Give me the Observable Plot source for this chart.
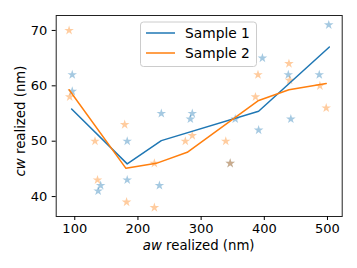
<!DOCTYPE html>
<html><head><meta charset="utf-8">
<script src="https://cdn.jsdelivr.net/npm/d3@7"></script>
<script src="https://cdn.jsdelivr.net/npm/@observablehq/plot@0.6"></script>
<style>body{margin:0;background:#fff;font-family:"DejaVu Sans",sans-serif}</style>
</head><body><div id="chart"></div>
<script>
const xTicks = [100, 200, 300, 400, 500];
const yTicks = [40, 50, 60, 70];
const seriesNames = ["Sample 1", "Sample 2"];
const seriesColors = ["#1f77b4", "#ff7f0e"];

// scattered samples (stars)
const s1PointX = [96, 96, 137, 141, 183, 183, 237, 234, 286, 283, 346, 354, 391, 397, 438, 442, 487, 502];
const s1PointY = [62, 59, 41, 42, 50, 43, 55, 42, 55, 54, 46, 54, 52, 65, 62, 54, 62, 71];
const s2PointX = [91, 92, 132, 136, 179, 182, 226, 226, 275, 286, 339, 346, 386, 390, 439, 440, 488, 498];
const s2PointY = [70, 58, 50, 43, 53, 39, 38, 46, 50, 51, 50, 46, 58, 62, 64, 61, 60, 56];

// trend lines
const s1LineX = [95, 183, 237, 391, 503];
const s1LineY = [55.8, 45.9, 50.1, 55.4, 67];
const s2LineX = [91, 181, 229, 278, 390, 439, 498];
const s2LineY = [59.3, 45.1, 46, 48, 57.3, 59.3, 60.4];

const pts1 = s1PointX.map((x, i) => ({x, y: s1PointY[i]}));
const pts2 = s2PointX.map((x, i) => ({x, y: s2PointY[i]}));
const line1 = s1LineX.map((x, i) => ({x, y: s1LineY[i]}));
const line2 = s2LineX.map((x, i) => ({x, y: s2LineY[i]}));

const plot = Plot.plot({
  width: 357, height: 268,
  marginLeft: 55.7, marginRight: 15.3, marginTop: 15, marginBottom: 52,
  style: {fontFamily: "DejaVu Sans", fontSize: "13px", color: "#000", background: "#fff", overflow: "visible"},
  x: {domain: [70.6, 523.3]},
  y: {domain: [36.4, 72.7]},
  marks: [
    Plot.dot(pts1, {x: "x", y: "y", symbol: "star", r: 3, fill: seriesColors[0], fillOpacity: 0.4, stroke: "none"}),
    Plot.dot(pts2, {x: "x", y: "y", symbol: "star", r: 3, fill: seriesColors[1], fillOpacity: 0.4, stroke: "none"}),
    Plot.line(line1, {x: "x", y: "y", stroke: seriesColors[0], strokeWidth: 1.5}),
    Plot.line(line2, {x: "x", y: "y", stroke: seriesColors[1], strokeWidth: 1.5}),
    Plot.frame({stroke: "#222", strokeWidth: 1}),
    Plot.axisX({ticks: xTicks, tickSize: 4, tickPadding: 3, label: null, tickFormat: d => String(d)}),
    Plot.axisY({ticks: yTicks, tickSize: 4, tickPadding: 5, label: null, tickFormat: d => String(d)})
  ]
});
document.getElementById("chart").appendChild(plot);

const svg = d3.select(plot);
// axis labels with italic variable names
const xl = svg.append("text").attr("x", 198.7).attr("y", 250).attr("text-anchor", "middle")
  .attr("font-size", 13.3).attr("fill", "#000");
xl.append("tspan").attr("font-style", "italic").text("aw");
xl.append("tspan").text(" realized (nm)");
const yl = svg.append("text").attr("transform", "translate(25,121) rotate(-90)").attr("text-anchor", "middle")
  .attr("font-size", 13.3).attr("fill", "#000");
yl.append("tspan").attr("font-style", "italic").text("cw");
yl.append("tspan").text(" realized (nm)");

// legend
const lg = svg.append("g");
lg.append("rect").attr("x", 140.5).attr("y", 22).attr("width", 116).attr("height", 44.5)
  .attr("rx", 3).attr("fill", "#fff").attr("fill-opacity", 0.8).attr("stroke", "#cccccc").attr("stroke-width", 1);
seriesNames.forEach((name, i) => {
  const cy = 33 + i * 20;
  lg.append("line").attr("x1", 146).attr("x2", 175).attr("y1", cy).attr("y2", cy)
    .attr("stroke", seriesColors[i]).attr("stroke-width", 1.5);
  lg.append("text").attr("x", 185).attr("y", cy + 5).attr("text-anchor", "start")
    .attr("font-size", 13.8).attr("fill", "#000").text(name);
});
</script></body></html>
